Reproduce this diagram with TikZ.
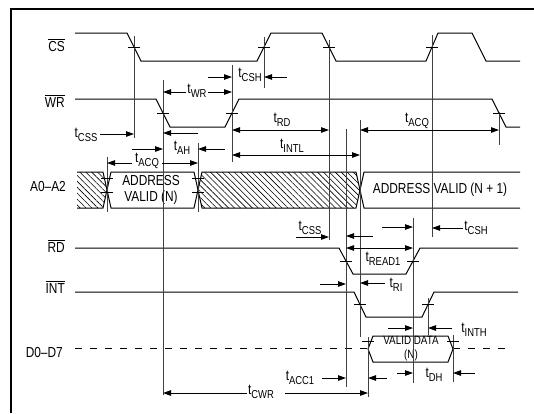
\documentclass[tikz,border=0pt]{standalone}
\usepackage{fontspec}
\setmainfont{Liberation Sans}[FakeStretch=0.82]
\usetikzlibrary{arrows.meta,patterns.meta}
\newcommand{\tsub}[1]{t\raisebox{-.5ex}{\fontsize{11.5}{12}\selectfont #1}}
\newcommand{\lowact}[1]{$\overline{\mbox{#1}}$}

\begin{document}
\begin{tikzpicture}[x=1pt,y=-1pt,font=\fontsize{14.5}{16}\selectfont,
  sig/.style={line width=1pt},
  refline/.style={line width=0.8pt,black!75},
  dim/.style={line width=0.9pt,-{Triangle[length=8pt,width=5.5pt]}},
  dimdim/.style={line width=0.9pt,{Triangle[length=8pt,width=5.5pt]}-{Triangle[length=8pt,width=5.5pt]}},
  tickmark/.style={line width=0.7pt},
  hatch/.style={pattern={Lines[angle=-45,distance=4.2pt,line width=0.6pt]}},
  lbl/.style={inner sep=0pt}]
\useasboundingbox (0,0) rectangle (534,413);
\draw[line width=1.5pt] (11,413) -- (11,9) -- (534,9);

% signal names
\node[lbl,anchor=base east] (cs) at (65,51) {\lowact{CS}};
\node[lbl,anchor=base east] (wr) at (65,107) {\lowact{WR}};
\node[lbl,anchor=base east] (addr) at (66,191) {A0--A2};
\node[lbl,anchor=base east] (rd) at (65,252) {\lowact{RD}};
\node[lbl,anchor=base east] (int) at (65,293) {\lowact{INT}};
\node[lbl,anchor=base east] (data) at (63,357) {D0--D7};

% waveforms
\draw[sig] (75,33) -- (127,33) -- (141,61) -- (257,61) -- (271,33) -- (322,33) -- (336,61)
  -- (426,61) -- (438,33) -- (472,33) -- (486,61) -- (520,61);
\draw[sig] (75,99) -- (156,99) -- (170,127) -- (225,127) -- (239,99) -- (492,99) -- (506,127) -- (520,127);
\draw[sig] (75,248) -- (339,248) -- (353,274) -- (406,274) -- (420,248) -- (518,248);
\draw[sig] (75,292) -- (354,292) -- (366,317) -- (422,317) -- (434,292) -- (518,292);

% address bus
\fill[hatch] (77,172) -- (103,172) -- (107,190) -- (103,208) -- (77,208) -- cycle;
\draw[sig] (77,172) -- (103,172) -- (107,190) -- (103,208) -- (77,208);
\draw[sig] (111,172) -- (194,172) -- (198,190) -- (194,208) -- (111,208) -- (107,190) -- cycle;
\fill[hatch] (202,172) -- (356,172) -- (360,190) -- (356,208) -- (202,208) -- (198,190) -- cycle;
\draw[sig] (202,172) -- (356,172) -- (360,190) -- (356,208) -- (202,208) -- (198,190) -- cycle;
\draw[sig] (520,172) -- (364,172) -- (360,190) -- (364,208) -- (520,208);
\node[lbl,align=center,font=\fontsize{14.5}{16}\selectfont] (addrn) at (151,190) {ADDRESS\\VALID (N)};
\node[lbl] (addrnext) at (440,190) {ADDRESS VALID (N + 1)};

% data bus
\draw[sig,dash pattern=on 7pt off 8pt] (75,348) -- (368,348);
\draw[sig,dash pattern=on 7pt off 8pt] (453,348) -- (508,348);
\draw[sig] (368,349) -- (373,336) -- (448,336) -- (453,349) -- (448,362) -- (373,362) -- cycle;
\node[lbl,align=center,font=\fontsize{12}{14}\selectfont] (valdata) at (411,349) {VALID DATA\\(N)};

% reference lines
\foreach \x/\ya/\yb in {134/36/138, 163/80/395, 107/157/212, 198/143/212, 232/65/162,
  264/37/88, 329/40/240, 346/129/387, 360/120/337, 413/218/383, 428/298/335,
  432/35/237, 453/335/382, 368/337/397, 499/112/145}
  \draw[refline] (\x,\ya) -- (\x,\yb);

% ticks
\foreach \x/\y in {134/47, 264/47, 329/47, 432/47, 163/113, 232/113, 499/113,
  346/261, 413/261, 360/304, 428/304, 368/341, 453/341,
  107/178, 107/192, 198/178, 198/192}
  \draw[tickmark] (\x-6,\y) -- (\x+6,\y);

% timing labels
\node[lbl] (twr) at (197,91) {\tsub{WR}};
\draw[dim] (186,92) -- (163,92);
\draw[dim] (208,92) -- (232,92);
\node[lbl] (tcsh) at (250,75) {\tsub{CSH}};
\draw[dim] (208,77) -- (232,77);
\draw[dim] (287,77) -- (264,77);
\node[lbl] (tcss) at (86,135) {\tsub{CSS}};
\draw[dim] (100,134) -- (134,134);
\draw[dim] (198,133) -- (163,133);
\node[lbl] (tah) at (182,148) {\tsub{AH}};
\draw[dim] (132,149) -- (163,149);
\draw[dim] (225,149) -- (198,149);
\node[lbl] (tacq) at (147,161) {\tsub{ACQ}};
\draw[dim] (132,163) -- (107,163);
\draw[dim] (162,163) -- (198,163);
\node[lbl] (trd) at (282,120) {\tsub{RD}};
\draw[dimdim] (232,130) -- (329,130);
\node[lbl] (tintl) at (292,146) {\tsub{INTL}};
\draw[dimdim] (232,155) -- (360,155);
\node[lbl] (tacqnext) at (417,121) {\tsub{ACQ}};
\draw[dimdim] (360,130) -- (499,130);
\node[lbl] (tcssrd) at (310,228) {\tsub{CSS}};
\draw[dim] (296,237) -- (329,237);
\draw[dim] (373,236) -- (346,236);
\node[lbl] (tcshrd) at (476,228) {\tsub{CSH}};
\draw[dim] (382,227) -- (413,227);
\draw[dim] (463,228) -- (432,228);
\node[lbl] (tread) at (383,259) {\tsub{READ1}};
\draw[dimdim] (346,248) -- (413,248);
\node[lbl] (tri) at (396,285) {\tsub{RI}};
\draw[dim] (320,284) -- (346,284);
\draw[dim] (385,283) -- (360,283);
\node[lbl] (tinth) at (474,330) {\tsub{INTH}};
\draw[dim] (388,328) -- (413,328);
\draw[dim] (452,328) -- (428,328);
\node[lbl] (tdh) at (434,375) {\tsub{DH}};
\draw[dim] (397,373) -- (413,373);
\draw[dim] (475,373) -- (453,373);
\node[lbl] (tacc) at (300,378) {\tsub{ACC1}};
\draw[dim] (322,378) -- (346,378);
\draw[dim] (387,378) -- (368,378);
\node[lbl] (tcwr) at (261,392) {\tsub{CWR}};
\draw[dim] (247,393) -- (163,393);
\draw[dim] (285,393) -- (368,393);
\end{tikzpicture}
\end{document}
